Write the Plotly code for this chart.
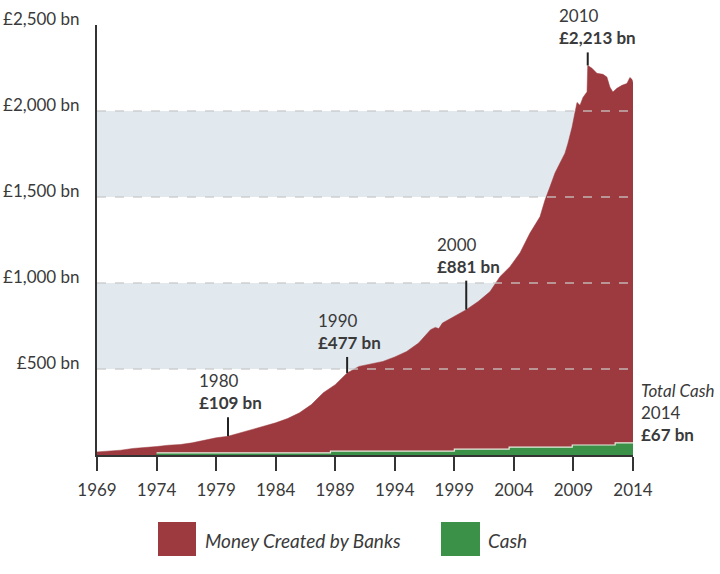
import numpy as np
import plotly.graph_objects as go

# ---------------- data ----------------
bank_years = [1969, 1970, 1971, 1972, 1973, 1974, 1975, 1976, 1977, 1978, 1979,
              1980, 1981, 1982, 1983, 1984, 1985, 1986, 1987, 1988, 1989, 1990,
              1991, 1992, 1993, 1994, 1995, 1996, 1997, 1997.4, 1997.7, 1998,
              1999, 2000, 2001, 2002, 2002.83, 2003.67, 2004.51, 2005.35,
              2006.19, 2006.61, 2007.03, 2007.45, 2007.87, 2008.29, 2008.54,
              2008.88, 2009.13, 2009.30, 2009.55, 2009.80, 2010.05, 2010.14,
              2010.2, 2010.56, 2010.97, 2011.48, 2011.81, 2012.06, 2012.31,
              2012.65, 2013.07, 2013.49, 2013.74, 2013.91, 2014]
bank_values = [18, 22, 28, 38, 42, 49, 57, 61, 71, 86, 100,
               109, 129, 148, 167, 187, 212, 245, 293, 362, 409, 477,
               515, 529, 544, 570, 602, 651, 728, 742, 735,
               767, 805, 845, 892, 950, 1037, 1095, 1175, 1290,
               1385, 1482, 1559, 1639, 1697, 1755, 1813,
               1905, 1992, 2050, 2033, 2079, 2103, 2110,
               2265, 2248, 2219, 2213, 2197, 2139, 2110,
               2132, 2149, 2160, 2195, 2184, 2166]

cash_years = [1974, 1988.6, 1999, 2003.6, 2008.9, 2012.5, 2014]
cash_values = [12, 22, 34, 46, 58, 70, 70]

x_ticks = [1969, 1974, 1979, 1984, 1989, 1994, 1999, 2004, 2009, 2014]
y_ticks = [500, 1000, 1500, 2000, 2500]
y_tick_text = ["£500 bn", "£1,000 bn", "£1,500 bn", "£2,000 bn", "£2,500 bn"]
shaded_bands = [(500, 1000), (1500, 2000)]
grid_values = [500, 1000, 1500, 2000]

callout_years = [1980, 1990, 2000, 2010.2]
callout_labels = ["£109 bn", "£477 bn", "£881 bn", "£2,213 bn"]
callout_titles = ["1980", "1990", "2000", "2010"]

cash_note = ["Total Cash", "2014", "£67 bn"]
legend_names = ["Money Created by Banks", "Cash"]

# ---------------- styles ----------------
RED = "#9d3a3f"
GREEN = "#3b9148"
BAND = "#e1e8ee"
TEXT = "#3a3a3a"
AXIS = "#333333"
FONT = "Lato"
W, H = 720, 574
ML, MR, MT, MB = 97, 87, 25, 119
PW, PH = W - ML - MR, H - MT - MB
stem_px = [19, 16, 29, 13]


def px_x(px):
    return (px - ML) / PW


def px_y(py):
    return (H - MB - py) / PH


fig = go.Figure()
fig.add_trace(go.Scatter(x=bank_years, y=bank_values, mode="lines",
                         fill="tozeroy", fillcolor=RED,
                         line=dict(color=RED, width=0.5),
                         hoverinfo="skip", showlegend=False))
fig.add_trace(go.Scatter(x=cash_years, y=cash_values, mode="lines",
                         line_shape="hv", fill="tozeroy", fillcolor=GREEN,
                         line=dict(color="#e6eedf", width=1.2),
                         hoverinfo="skip", showlegend=False))

shapes = []
for lo, hi in shaded_bands:
    shapes.append(dict(type="rect", xref="x", yref="y", x0=x_ticks[0], x1=x_ticks[-1],
                       y0=lo, y1=hi, fillcolor=BAND, line=dict(width=0), layer="below"))
for g in grid_values:
    shapes.append(dict(type="line", xref="x", yref="y", x0=x_ticks[0], x1=x_ticks[-1],
                       y0=g, y1=g, line=dict(color="rgba(200,200,200,0.85)", width=1.3, dash="dash"),
                       layer="above"))

annotations = []
for yr, title, lab, stem in zip(callout_years, callout_titles, callout_labels, stem_px):
    base = float(np.interp(yr, bank_years, bank_values))
    shapes.append(dict(type="line", xref="x", yref="y", ysizemode="pixel", yanchor=base,
                       x0=yr, x1=yr, y0=0, y1=stem, line=dict(color="#222222", width=2),
                       layer="above"))
    annotations.append(dict(x=yr, y=base, xref="x", yref="y", xanchor="left", yanchor="bottom",
                            xshift=-31, yshift=stem + 2, showarrow=False, align="left",
                            text=f"{title}<br><b>{lab}</b>",
                            font=dict(family=FONT, size=17, color=TEXT)))

annotations.append(dict(x=cash_years[-1], y=cash_values[-1], xref="x", yref="y",
                        xanchor="left", yanchor="bottom", xshift=6, yshift=-4,
                        showarrow=False, align="left",
                        text=f"<i>{cash_note[0]}</i><br>{cash_note[1]}<br><b>{cash_note[2]}</b>",
                        font=dict(family=FONT, size=17, color=TEXT)))

# legend (manual)
legend_items = [(legend_names[0], RED, 158, 196, 203), (legend_names[1], GREEN, 441, 480, 486)]
for name, col, x0, x1, tx in legend_items:
    shapes.append(dict(type="rect", xref="paper", yref="paper", x0=px_x(x0), x1=px_x(x1),
                       y0=px_y(556), y1=px_y(522), fillcolor=col, line=dict(width=0)))
    annotations.append(dict(x=px_x(tx), y=px_y(540), xref="paper", yref="paper",
                            xanchor="left", yanchor="middle", showarrow=False,
                            text=f"<i>{name}</i>",
                            font=dict(family=FONT, size=19, color=TEXT)))

fig.update_layout(
    width=W, height=H,
    margin=dict(l=ML, r=MR, t=MT, b=MB, autoexpand=False),
    paper_bgcolor="white", plot_bgcolor="white",
    shapes=shapes, annotations=annotations,
    font=dict(family=FONT, color=TEXT),
    xaxis=dict(range=[x_ticks[0], x_ticks[-1]], tickvals=x_ticks, automargin=False,
               showgrid=False, zeroline=False, showline=True, linecolor=AXIS, linewidth=2,
               ticks="outside", ticklen=14, tickwidth=2, tickcolor=AXIS,
               ticklabelstandoff=5,
               tickfont=dict(family=FONT, size=17, color=TEXT)),
    yaxis=dict(range=[0, 2500], tickvals=y_ticks, ticktext=y_tick_text, automargin=False,
               showgrid=False, zeroline=False, showline=True, linecolor=AXIS, linewidth=2,
               ticks="", ticklabelstandoff=12, ticklabelshift=-6,
               tickfont=dict(family=FONT, size=17, color=TEXT)),
)

fig.write_html("out.html")
